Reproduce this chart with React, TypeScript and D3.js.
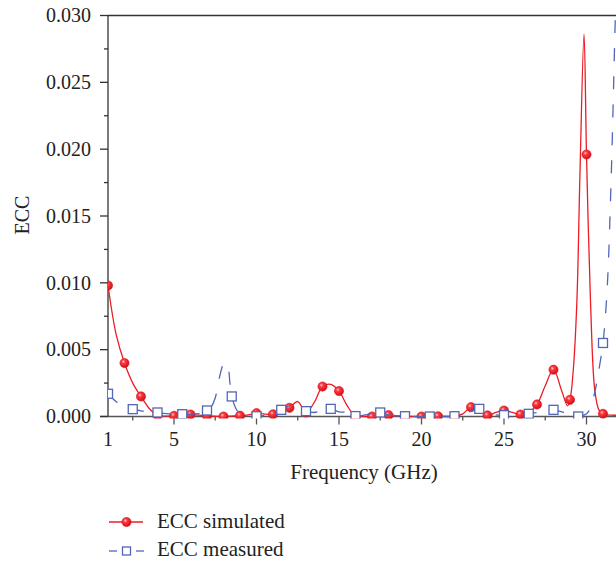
import React from "react";
import * as d3 from "d3";

// ---- Data ----
const simFreq = [1,1.5,2,2.5,3,3.5,4,4.5,5,5.5,6,6.5,7,7.5,8,8.5,9,9.5,10,10.5,11,11.5,12,12.5,13,13.5,14,14.5,15,15.5,16,16.5,17,17.5,18,18.5,19,19.5,20,20.5,21,21.5,22,22.5,23,23.5,24,24.5,25,25.5,26,26.5,27,27.5,28,28.5,28.85,29,29.2,29.42,29.6,29.85,30,30.24,30.5,30.75,31,31.5,32,33];
const simValue = [0.0098,0.0061,0.0040,0.0025,0.0015,0.0006,0.0001,0.00003,0.00005,0.0001,0.00015,0.0001,0.00005,0.00002,0.0,0.00003,0.00006,0.00012,0.00025,0.00018,0.00017,0.0003,0.00065,0.00112,0.0003,0.00105,0.00224,0.0024,0.0019,0.0008,0.00002,0.0,0.0,0.00005,0.0001,0.00005,0.00003,0.0,0.0,0.0,0.00002,0.0,0.00002,0.0002,0.0007,0.0005,0.00008,0.0003,0.00045,0.0003,0.00015,0.0003,0.0009,0.0023,0.0035,0.0019,0.0008,0.00125,0.0035,0.0087,0.018,0.0286,0.0196,0.0087,0.002,0.0005,0.0002,0.0001,0.0001,0.0001];
const simMarkerFreq = [1,2,3,4,5,6,7,8,9,10,11,12,13,14,15,16,17,18,19,20,21,22,23,24,25,26,27,28,29,30,31];

const measFreq = [1,1.5,2,2.5,3,3.5,4,4.5,5,5.5,6,6.5,7,7.25,7.5,7.75,8,8.2,8.4,8.5,8.75,9,9.5,10,10.5,11,11.5,12,12.5,13,13.5,14,14.5,15,15.5,16,16.5,17,17.5,18,18.5,19,19.5,20,20.5,21,21.5,22,22.5,23,23.5,24,24.5,25,25.5,26,26.5,27,27.5,28,28.5,29,29.5,30,30.25,30.5,30.75,31,31.25,31.5,31.75,32,32.5];
const measValue = [0.0017,0.0011,0.0007,0.00055,0.00042,0.00035,0.0003,0.00022,0.00017,0.00017,0.00018,0.00022,0.00045,0.0007,0.0014,0.0029,0.0039,0.0040,0.0024,0.0015,0.0006,0.0002,0.00005,0.00002,0.0001,0.0003,0.0005,0.0008,0.0006,0.0004,0.0003,0.00045,0.00057,0.00035,0.0003,0.00003,0.0001,0.00022,0.0003,0.00012,0.00005,0.00002,0,0,0,0,0,0.00002,0.00015,0.0004,0.00057,0.0003,0.00012,0.0001,0.00012,0.00016,0.0002,0.0003,0.0004,0.0005,0.00035,0.00012,0.0,0.0002,0.0007,0.0018,0.0035,0.0055,0.0095,0.018,0.030,0.040,0.05];
const measMarkerFreq = [1,2.5,4,5.5,7,8.5,10,11.5,13,14.5,16,17.5,19,20.5,22,23.5,25,26.5,28,29.5,31];

const xTickValues = [1,5,10,15,20,25,30];
const xMinorTicks = [2.5,7.5,12.5,17.5,22.5,27.5,32.5];
const yTickValues = [0,0.005,0.01,0.015,0.02,0.025,0.03];
const yMinorTicks = [0.0025,0.0075,0.0125,0.0175,0.0225,0.0275];

const seriesNames = ["ECC simulated", "ECC measured"];
const xTitle = "Frequency (GHz)";
const yTitle = "ECC";

const RED = "#ec1c24";
const BLUE = "#5166b6";
const AXIS = "#333";
const txt = { fontFamily: "Liberation Serif" };

export default function App() {
  const W = 616, H = 563;
  const x = d3.scaleLinear().domain([1, 30]).range([108, 586.5]);
  const y = d3.scaleLinear().domain([0, 0.03]).range([416.5, 15.5]);
  const left = x(1), right = 640, top = y(0.03), bottom = y(0);

  const simPts: [number, number][] = simFreq.map((f, i) => [f, simValue[i]]);
  const measPts: [number, number][] = measFreq.map((f, i) => [f, measValue[i]]);
  const line = d3.line<[number, number]>()
    .x(d => x(d[0])).y(d => y(d[1]))
    .curve(d3.curveCatmullRom.alpha(0.5));

  const simMarkers = simMarkerFreq.map(f => [f, simValue[simFreq.indexOf(f)]]);
  const measMarkers = measMarkerFreq.map(f => [f, measValue[measFreq.indexOf(f)]]);

  const fmtY = d3.format(".3f");

  return (
    <svg width={W} height={H} style={{ position: "absolute", left: 0, top: 0 }}>
      <defs>
        <clipPath id="plotClip">
          <rect x={left} y={top} width={right - left} height={bottom - top + 2} />
        </clipPath>
        <radialGradient id="ball" cx="38%" cy="35%" r="65%">
          <stop offset="0%" stopColor="#ffd0d0" />
          <stop offset="30%" stopColor="#ff3a40" />
          <stop offset="100%" stopColor="#d0101a" />
        </radialGradient>
      </defs>
      <rect width={W} height={H} fill="#fff" />

      {/* frame */}
      <line x1={left} x2={right} y1={top} y2={top} stroke={AXIS} strokeWidth={1.3} />
      <line x1={left} x2={left} y1={top} y2={bottom} stroke={AXIS} strokeWidth={1.3} />
      <line x1={left - 8} x2={right} y1={bottom} y2={bottom} stroke="#555" strokeWidth={1.6} />

      {/* y ticks */}
      {yTickValues.map(v => (
        <g key={"y" + v}>
          <line x1={left - 8} x2={left} y1={y(v)} y2={y(v)} stroke={AXIS} strokeWidth={1.3} />
          <text x={left - 17} y={y(v)} dy="0.34em" textAnchor="end" fontSize={20} fill="#222" style={txt}>{fmtY(v)}</text>
        </g>
      ))}
      {yMinorTicks.map(v => (
        <line key={"ym" + v} x1={left - 4} x2={left} y1={y(v)} y2={y(v)} stroke={AXIS} strokeWidth={1.3} />
      ))}

      {/* x ticks */}
      {xTickValues.map(v => (
        <g key={"x" + v}>
          {v !== 1 && <line x1={x(v)} x2={x(v)} y1={bottom} y2={bottom + 8} stroke="#555" strokeWidth={1.3} />}
          <text x={x(v)} y={bottom + 29} textAnchor="middle" fontSize={20} fill="#222" style={txt}>{v}</text>
        </g>
      ))}
      {xMinorTicks.map(v => (
        <line key={"xm" + v} x1={x(v)} x2={x(v)} y1={bottom} y2={bottom + 4} stroke="#555" strokeWidth={1.3} />
      ))}

      {/* axis titles */}
      <text x={364} y={479} textAnchor="middle" fontSize={21} fill="#222" style={txt}>{xTitle}</text>
      <text transform={`translate(29,215) rotate(-90)`} textAnchor="middle" fontSize={20} fill="#222" style={txt}>{yTitle}</text>

      {/* series */}
      <g clipPath="url(#plotClip)">
        <path d={line(simPts) || ""} fill="none" stroke={RED} strokeWidth={1.3} />
        {simMarkers.map(([f, v]) => (
          <circle key={"s" + f} cx={x(f)} cy={y(v)} r={4.6} fill="url(#ball)" stroke="#d8121c" strokeWidth={0.6} />
        ))}
        <path d={line(measPts) || ""} fill="none" stroke={BLUE} strokeWidth={1.3} strokeDasharray="13,15" />
        {measMarkers.map(([f, v]) => (
          <rect key={"m" + f} x={x(f) - 4.5} y={y(v) - 4.5} width={9} height={9} fill="#fff" stroke={BLUE} strokeWidth={1.3} />
        ))}
      </g>

      {/* legend */}
      <g>
        <line x1={109} x2={143} y1={522} y2={522} stroke={RED} strokeWidth={1.3} />
        <circle cx={126.5} cy={522} r={4.6} fill="url(#ball)" stroke="#d8121c" strokeWidth={0.6} />
        <text x={157} y={527.5} fontSize={21} fill="#222" style={txt}>{seriesNames[0]}</text>

        <line x1={109} x2={117} y1={551} y2={551} stroke={BLUE} strokeWidth={1.3} />
        <line x1={136} x2={144} y1={551} y2={551} stroke={BLUE} strokeWidth={1.3} />
        <rect x={122.5} y={547} width={8} height={8} fill="#fff" stroke={BLUE} strokeWidth={1.3} />
        <text x={157} y={556} fontSize={21} fill="#222" style={txt}>{seriesNames[1]}</text>
      </g>
    </svg>
  );
}
